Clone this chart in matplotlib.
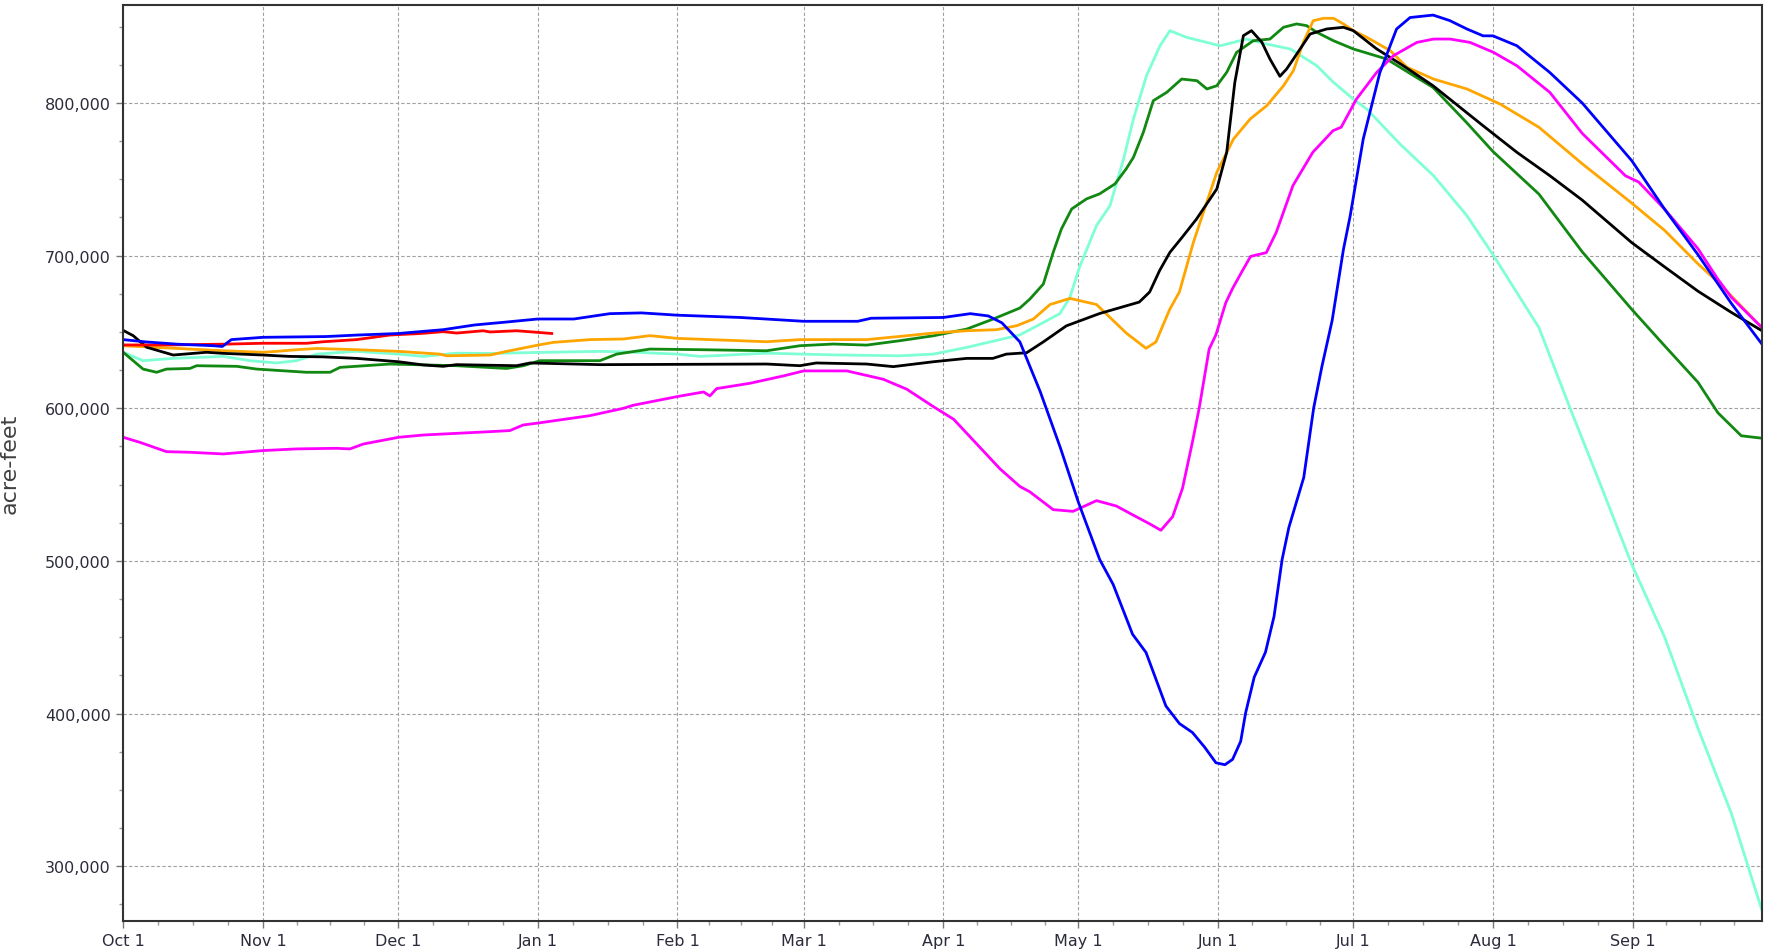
import numpy as np
import matplotlib.pyplot as plt
from matplotlib.ticker import FixedLocator, FuncFormatter, MultipleLocator

# water-year day (0 = Oct 1) and storage in thousand acre-feet
blue_days = [0, 5, 12, 20, 22, 24, 31, 45, 52, 61, 71, 78, 85, 92, 100, 108, 115, 123, 137, 151, 163, 166,
             182, 188, 192, 195, 199, 203.5, 208, 212, 216.7, 219.7, 224, 227, 231.4, 234.4, 237.3, 240, 242.5,
             244.5, 246.2, 248, 249.1, 251, 253.5, 255.4, 257.2, 258.7, 262, 264.2, 266, 268.3, 270.8, 272.3,
             275.2, 278.9, 282.6, 285.6, 290.7, 294.4, 298.2, 301.8, 304, 309.3, 316.6, 323.8, 334.8, 342.1,
             349.5, 356.9, 363.7]
blue_vals = [645, 643.5, 642, 641, 640.5, 645, 646.5, 647, 648, 649, 651.5, 654.6, 656.5, 658.5, 658.5, 662,
             662.5, 661, 659.5, 657, 657, 659, 659.5, 662, 660.5, 656, 643.5, 611, 574, 538.3, 501, 484.6, 452,
             440, 405, 393.5, 387.6, 378, 367.8, 366.5, 370, 381.8, 400.5, 423.8, 440.2, 463.6, 501, 522, 554.7,
             600.2, 627, 657.5, 704, 726, 776.4, 820, 848.5, 856, 857.6, 854, 848.5, 844, 844, 837.5, 820, 800,
             762.2, 730.4, 700.6, 668.7, 642]

red_days = [0, 10, 22, 31, 40.7, 44.4, 51.8, 59.2, 66, 71, 74, 79.9, 81.4, 87.3, 92.2, 95.1]
red_vals = [641.5, 641.5, 642, 642.6, 642.6, 643.6, 645, 648, 649, 650.2, 649.3, 650.8, 650, 650.8, 649.7, 649]

black_days = [0, 2.2, 5.2, 11.1, 18.5, 22.2, 31, 36.9, 44.4, 51.8, 61.1, 66.6, 71, 74, 87.3, 90.3, 105.8,
              142.8, 150.2, 153.8, 165, 170.9, 179.8, 187.2, 193, 196, 200.5, 204.2, 209.3, 216.7, 225.5,
              227.8, 230, 232.3, 235, 238.2, 242.7, 244.9, 246.7, 248.6, 250.4, 252.7, 254.5, 256.7, 258.2,
              259.7, 263.4, 267.1, 270.8, 273, 278.2, 284.1, 290.7, 301.8, 309.3, 316.6, 323.8, 334.8, 342.1,
              349.5, 356.9, 363.7]
black_vals = [651, 647.6, 640, 634.9, 636.7, 636, 634.9, 634, 633.7, 632.7, 630.5, 628.4, 627.5, 628.6, 627.9,
              629.7, 628.6, 629, 627.9, 629.7, 629, 627.3, 630.5, 632.7, 632.7, 635.5, 636.4, 643.5, 654, 662.1,
              669.6, 676.2, 690.2, 702.2, 712, 724, 743.7, 767.7, 813.5, 844.1, 847.4, 839.8, 828.8, 817.5,
              822.3, 828.8, 845.2, 848.5, 849.6, 847.4, 835.4, 824.4, 811.3, 785.1, 767.7, 752.4, 736.4, 708.5,
              692.6, 676.7, 662.8, 650.8]

green_days = [0, 2.2, 4.4, 7.4, 9.6, 14.8, 16.3, 25.2, 29.6, 40.7, 45.9, 48.1, 59.2, 74, 85.1, 88.8, 92.5,
              105.8, 109.5, 116.9, 128, 142.8, 150.2, 157.6, 165, 172.4, 179.8, 187.2, 193.1, 199, 201.2, 204.2,
              206.4, 208.2, 210.5, 213.8, 216.7, 220.1, 222.6, 224.2, 226.4, 228.6, 231.6, 234.9, 238.3, 240.5,
              242.7, 244.9, 247.1, 250.8, 254.5, 257.5, 260.4, 262.6, 264.9, 268.6, 273, 280.4, 287, 290.7,
              298.1, 304, 314.2, 323.8, 334.8, 342.1, 349.5, 353.9, 359.1, 363.7]
green_vals = [636.7, 631.2, 625.7, 623.6, 625.7, 626.1, 627.9, 627.5, 625.7, 623.6, 623.6, 626.8, 629, 627.9,
              626.1, 627.9, 631.2, 631.2, 635.5, 638.8, 638.4, 637.7, 641, 642.1, 641.4, 644.3, 647.5, 651.9,
              658.5, 665.7, 671.5, 681.4, 702.2, 717.4, 730.6, 737.2, 740.5, 747, 756.9, 764.4, 780.8, 801.5,
              807, 815.7, 814.6, 809.2, 811.3, 820.1, 833.2, 840.8, 841.9, 849.6, 851.8, 850.7, 846.3, 840.8,
              835.4, 828.8, 816.8, 810.2, 787.3, 768.2, 740.3, 702.5, 664.8, 640.9, 617, 597.1, 582, 580.4]

orange_days = [0, 7.4, 22.2, 31, 34, 38.5, 42.9, 51.8, 61.1, 70.3, 71.8, 81.4, 85.1, 92.2, 95.5, 103.6, 111,
               116.9, 123, 142.8, 150.2, 165, 172.4, 179.8, 187.2, 193.8, 198.3, 202, 205.7, 210.1, 216, 218.9,
               222.6, 227, 229.2, 232.2, 234.4, 237.5, 242.7, 246.4, 250.1, 253.8, 257.5, 259.7, 261.9, 264.1,
               266.4, 268.6, 270.8, 273, 276, 281.2, 284.9, 290.8, 298.2, 305.6, 314.2, 323.8, 334.8, 342.1,
               349.5, 353.9, 363.7]
orange_vals = [641, 639.9, 637.7, 636.7, 637.3, 638.4, 639.2, 638.4, 637.3, 635.5, 634.4, 634.9, 637.3, 641.5,
               643.2, 645, 645.4, 647.6, 645.8, 643.6, 645, 645, 647.1, 649.3, 650.8, 651.5, 654.1, 658.5, 668,
               672, 668, 659.8, 649.3, 639.3, 643.5, 664.5, 676.2, 708.7, 754.6, 776.4, 789.5, 798.3, 811.3,
               821.2, 839.7, 853.9, 855.5, 855.5, 851.8, 847.4, 843, 834.3, 823.4, 815.7, 809.2, 799.3, 784.1,
               760.2, 734.4, 716.5, 694.6, 682.7, 652.8]

aqua_days = [0, 2.2, 4.4, 11.1, 22.2, 28.1, 34, 38.5, 42.9, 51.8, 61.1, 66.6, 74, 81.4, 92.2, 105.8, 111, 123,
             128, 142.8, 157.6, 172.4, 179.8, 187.2, 194.6, 199, 203.5, 207.9, 210.1, 212.3, 216, 219, 222,
             224.2, 227.1, 230.1, 232.3, 236, 239, 243.4, 246.4, 249.3, 253.8, 259, 264.9, 268.6, 273, 276,
             283.4, 290.8, 298.2, 304, 314.2, 321.5, 327.4, 334.8, 342.1, 349.5, 356.9, 363.7]
aqua_vals = [636.7, 633.9, 631.2, 632.7, 634, 631.2, 629.7, 631.2, 635.5, 637.3, 635.5, 634, 636.1, 635.9,
             636.6, 637.3, 637, 635.5, 634, 636.1, 635, 634.4, 635.5, 639.9, 645, 648.1, 655.1, 662.1, 672.7,
             693, 719.7, 732.8, 763.3, 789.5, 817.9, 837.5, 847.4, 843, 840.8, 837.5, 839.7, 841.9, 838.6,
             835.4, 824.4, 813.5, 802.6, 796, 773, 752.4, 726.2, 700.6, 652.8, 597.1, 553.4, 497.7, 450, 390.3,
             334.6, 271]

magenta_days = [0, 3.7, 9.6, 14.8, 22.2, 31, 38.5, 47.3, 50.3, 53.3, 61.1, 66.6, 74, 81.4, 85.8, 88.8, 92.2,
                103.6, 111, 113.2, 123, 128.8, 130.2, 131.7, 139.1, 146.5, 151, 160.6, 168.7, 173.9, 179.8,
                184.3, 194.6, 199, 201.2, 206.4, 210.8, 216, 220.4, 224.1, 227.8, 230.3, 232.9, 235.1, 237.3,
                238.8, 241, 242.5, 244.7, 246.2, 248.4, 250.2, 253.7, 255.9, 259.6, 264, 268.5, 270.3, 273.7,
                278.2, 281.9, 287.1, 290.8, 294.5, 298.9, 304.1, 309.3, 316.6, 323.8, 333.4, 336.3, 342.1,
                349.5, 353.9, 356.9, 363.7]
magenta_vals = [581, 577.7, 571.6, 571.2, 570.1, 572.3, 573.4, 573.8, 573.4, 576.6, 581, 582.5, 583.6, 584.7,
                585.4, 589.1, 590.4, 595.2, 600, 602, 607.7, 610.7, 608.1, 612.9, 616.4, 621.2, 624.5, 624.5,
                619, 612.5, 601.1, 592.8, 560.3, 548.8, 545.3, 533.6, 532.5, 539.5, 536, 530.1, 524.3, 520.1,
                529, 547.7, 578, 600.2, 638.8, 648.1, 669.2, 678.5, 690.2, 699.5, 702, 715.3, 745.9, 767.7,
                781.9, 784.1, 802.6, 820.1, 831, 839.7, 841.9, 841.9, 839.7, 833.2, 824.4, 807, 780.1, 752.3,
                748.3, 730.4, 704.5, 684.6, 672.7, 652.8]

month_labels = ['Oct 1', 'Nov 1', 'Dec 1', 'Jan 1', 'Feb 1', 'Mar 1', 'Apr 1', 'May 1', 'Jun 1', 'Jul 1',
                'Aug 1', 'Sep 1']
month_lengths = [31, 30, 31, 31, 28, 31, 30, 31, 30, 31, 31, 30]

series = [
    (aqua_days, aqua_vals, '#7FFFD4'),
    (green_days, green_vals, '#118811'),
    (orange_days, orange_vals, '#FFA500'),
    (black_days, black_vals, '#000000'),
    (magenta_days, magenta_vals, '#FF00FF'),
    (red_days, red_vals, '#FF0000'),
    (blue_days, blue_vals, '#0000FF'),
]

fig = plt.figure(figsize=(17.73, 9.53), dpi=100)
ax = fig.add_axes([0.0695, 0.0328, 0.9243, 0.9609])

for d, v, c in series:
    ax.plot(d, np.array(v) * 1000, color=c, linewidth=2.0)

month_starts = np.concatenate([[0], np.cumsum(month_lengths)[:-1]])
minor = []
for s, n in zip(month_starts, month_lengths):
    minor += [s + n * k / 4 for k in (1, 2, 3)]

ax.set_xlim(0, 363.7)
ax.set_ylim(264300, 864200)
ax.xaxis.set_major_locator(FixedLocator(month_starts))
ax.set_xticklabels(month_labels)
ax.xaxis.set_minor_locator(FixedLocator(minor))
ax.yaxis.set_major_locator(MultipleLocator(100000))
ax.yaxis.set_minor_locator(MultipleLocator(25000))
ax.yaxis.set_major_formatter(FuncFormatter(lambda y, p: f'{int(y):,}'))

ax.grid(True, which='major', color='#a0a0a0', linestyle=(0, (3, 2)), linewidth=0.8)
ax.tick_params(which='major', length=5, width=1, color='#777777', labelsize=11.5,
               labelcolor='#2b2b3b', pad=4)
ax.tick_params(which='minor', length=3, width=1, color='#999999')
for sp in ax.spines.values():
    sp.set_color('#333333')
    sp.set_linewidth(1.5)

ax.set_ylabel('acre-feet', fontsize=16, color='#404040')
ax.yaxis.set_label_coords(-0.063, 0.5)

plt.savefig('out.png', dpi=100)
